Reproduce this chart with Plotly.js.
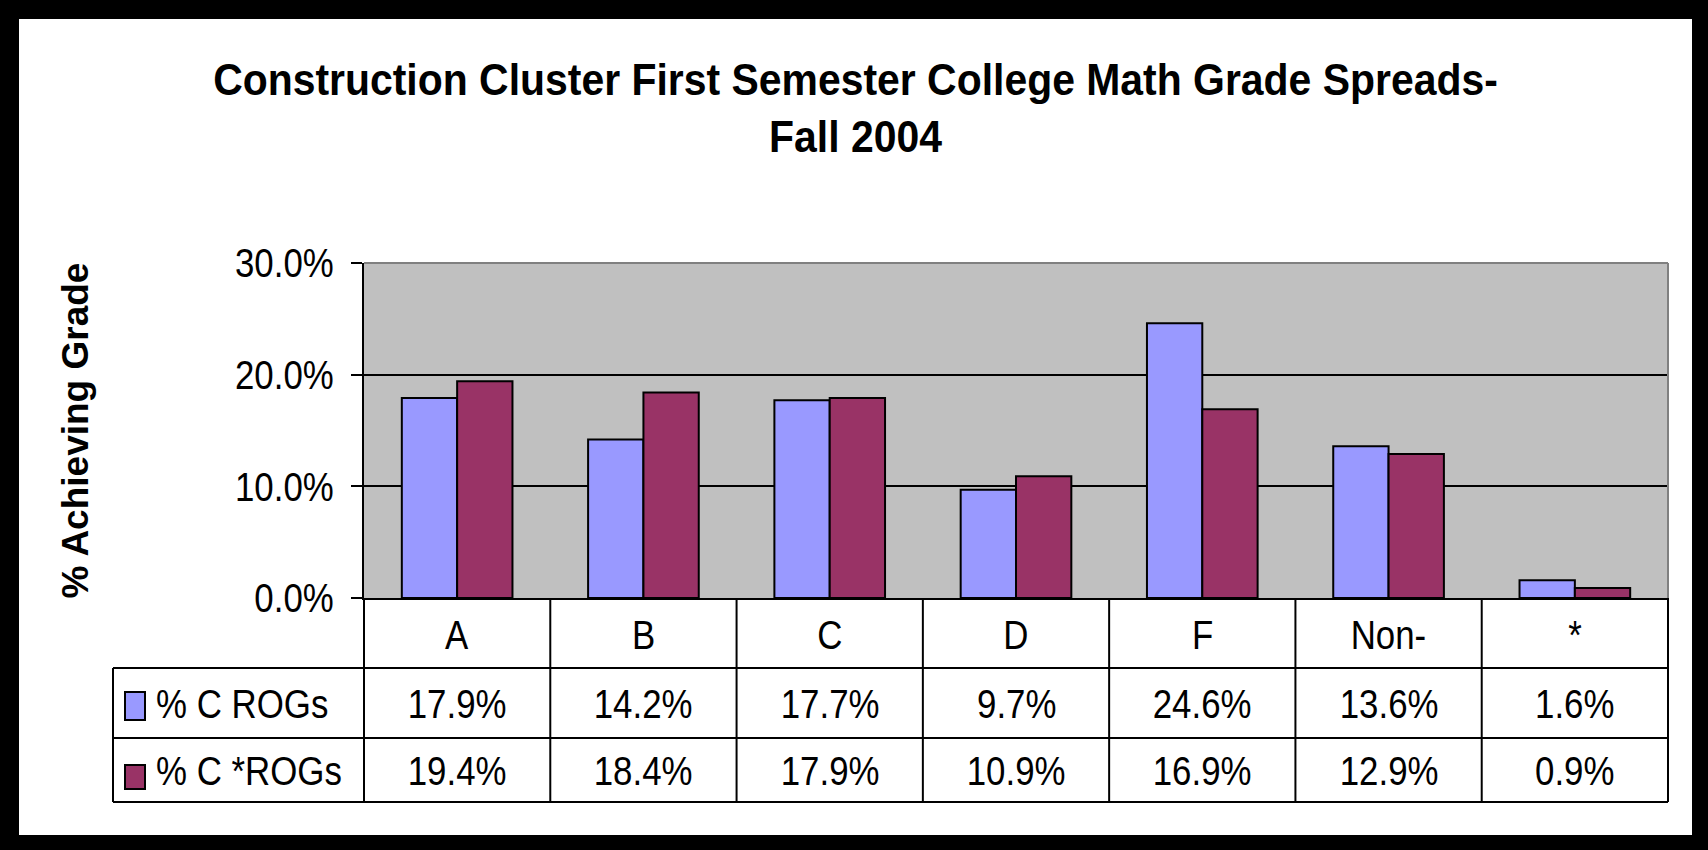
<!DOCTYPE html>
<html><head><meta charset="utf-8">
<script src="https://cdn.plot.ly/plotly-3.0.1.min.js"></script>
<style>
html,body{margin:0;padding:0;background:#000;}
#frame{position:absolute;left:0;top:0;width:1708px;height:850px;box-sizing:border-box;border-style:solid;border-color:#000;border-width:19px 16px 15px 19px;background:#fff;}
#chart{width:1673px;height:816px;}
</style></head><body><div id="frame"><div id="chart"></div></div>
<script>
const categories = ['A', 'B', 'C', 'D', 'F', 'Non-', '*'];
const seriesNames = ['% C ROGs', '% C *ROGs'];
const rogs = [17.9, 14.2, 17.7, 9.7, 24.6, 13.6, 1.6];
const starRogs = [19.4, 18.4, 17.9, 10.9, 16.9, 12.9, 0.9];
const yTicks = [0, 10, 20, 30];
const titleText = 'Construction Cluster First Semester College Math Grade Spreads-<br>Fall 2004';
const yTitle = '% Achieving Grade';

const colors = ['#9999FF', '#993366'];
const regular = 'Liberation Sans, Arial, sans-serif';
const series = [rogs, starRogs];

const traces = series.map((vals, i) => ({
  type: 'bar', x: categories, y: vals, name: seriesNames[i],
  marker: {color: colors[i], line: {color: '#000', width: 2}},
  hoverinfo: 'skip'
}));

// table geometry in paper coords (plot area = 1304 x 335 px)
const W = 1304, H = 335;
const px = v => v / W, py = v => -v / H;
const row1B = py(70), row2B = py(140), row3B = py(204);
const leftX = px(-251);
const rowY = [py(37), py(106), py(173)];
const n = categories.length;

const line = (x0, y0, x1, y1, c, w) => ({type: 'line', xref: 'paper', yref: 'paper', x0, y0, x1, y1, line: {color: c || '#000', width: w || 2}});
const shapes = [];
for (let i = 0; i <= n; i++) shapes.push(line(i / n, 0, i / n, row3B));
shapes.push(line(leftX, row1B, 1, row1B));
shapes.push(line(leftX, row2B, 1, row2B));
shapes.push(line(leftX, row3B, 1, row3B));
shapes.push(line(leftX, row1B, leftX, row3B));
shapes.push(line(0, 1, 1, 1, '#808080', 2));
shapes.push(line(1, 0, 1, 1, '#808080', 2));
// legend keys
const keyY = [[py(94), py(122)], [py(167), py(191)]];
series.forEach((s, i) => shapes.push({type: 'rect', xref: 'paper', yref: 'paper',
  x0: px(-239), x1: px(-219), y0: keyY[i][0], y1: keyY[i][1],
  fillcolor: colors[i], line: {color: '#000', width: 2}}));

const annotations = [];
const tf = {family: regular, size: 41, color: '#000'};
categories.forEach((c, j) => {
  annotations.push({xref: 'x', yref: 'paper', x: c, y: rowY[0], text: c, showarrow: false, font: tf, xanchor: 'center', yanchor: 'middle'});
  series.forEach((s, i) => annotations.push({xref: 'x', yref: 'paper', x: c, y: rowY[i + 1],
    text: s[j].toFixed(1) + '%', showarrow: false, font: tf, xanchor: 'center', yanchor: 'middle'}));
});
seriesNames.forEach((nm, i) => annotations.push({xref: 'paper', yref: 'paper', x: px(-209), y: rowY[i + 1],
  text: nm, showarrow: false, font: tf, xanchor: 'left', align: 'left', yanchor: 'middle', borderpad: 0}));

const layout = {
  width: 1673, height: 816,
  margin: {l: 345, r: 24, t: 244, b: 237},
  paper_bgcolor: '#FFFFFF', plot_bgcolor: '#C0C0C0',
  barmode: 'group', bargap: 0.406, bargroupgap: 0,
  showlegend: false,
  title: {text: titleText, font: {family: regular, size: 44, color: '#000', weight: 'bold'},
    x: 0.5, xref: 'container', xanchor: 'center', y: 1 - 76 / 816, yref: 'container', yanchor: 'top'},
  xaxis: {type: 'category', showline: true, linecolor: '#000', linewidth: 2, ticks: '', showgrid: false,
    showticklabels: false, range: [-0.5, n - 0.5]},
  yaxis: {range: [0, 30], tickvals: yTicks, ticktext: yTicks.map(v => v.toFixed(1) + '%'),
    ticks: 'outside', ticklen: 11, tickwidth: 2, tickcolor: '#000',
    showline: true, linecolor: '#000', linewidth: 2,
    showgrid: true, gridcolor: '#000', gridwidth: 2, zeroline: false,
    tickfont: tf, ticklabelstandoff: 9,
    title: {text: yTitle, font: {family: regular, size: 37, color: '#000', weight: 'bold'}, standoff: 118}},
  shapes, annotations
};
Plotly.newPlot('chart', traces, layout, {displayModeBar: false, staticPlot: true}).then(gd => {
  // condense glyphs horizontally, like the narrow lettering of the original
  const squeeze = (el, f) => {
    const L = el.getComputedTextLength();
    if (L > 0) { el.setAttribute('textLength', L * f); el.setAttribute('lengthAdjust', 'spacingAndGlyphs'); }
  };
  gd.querySelectorAll('.annotation-text, .ytick text').forEach(el => squeeze(el, 0.85));
  gd.querySelectorAll('.gtitle tspan.line').forEach(el => squeeze(el, 0.93));
});
</script></body></html>
